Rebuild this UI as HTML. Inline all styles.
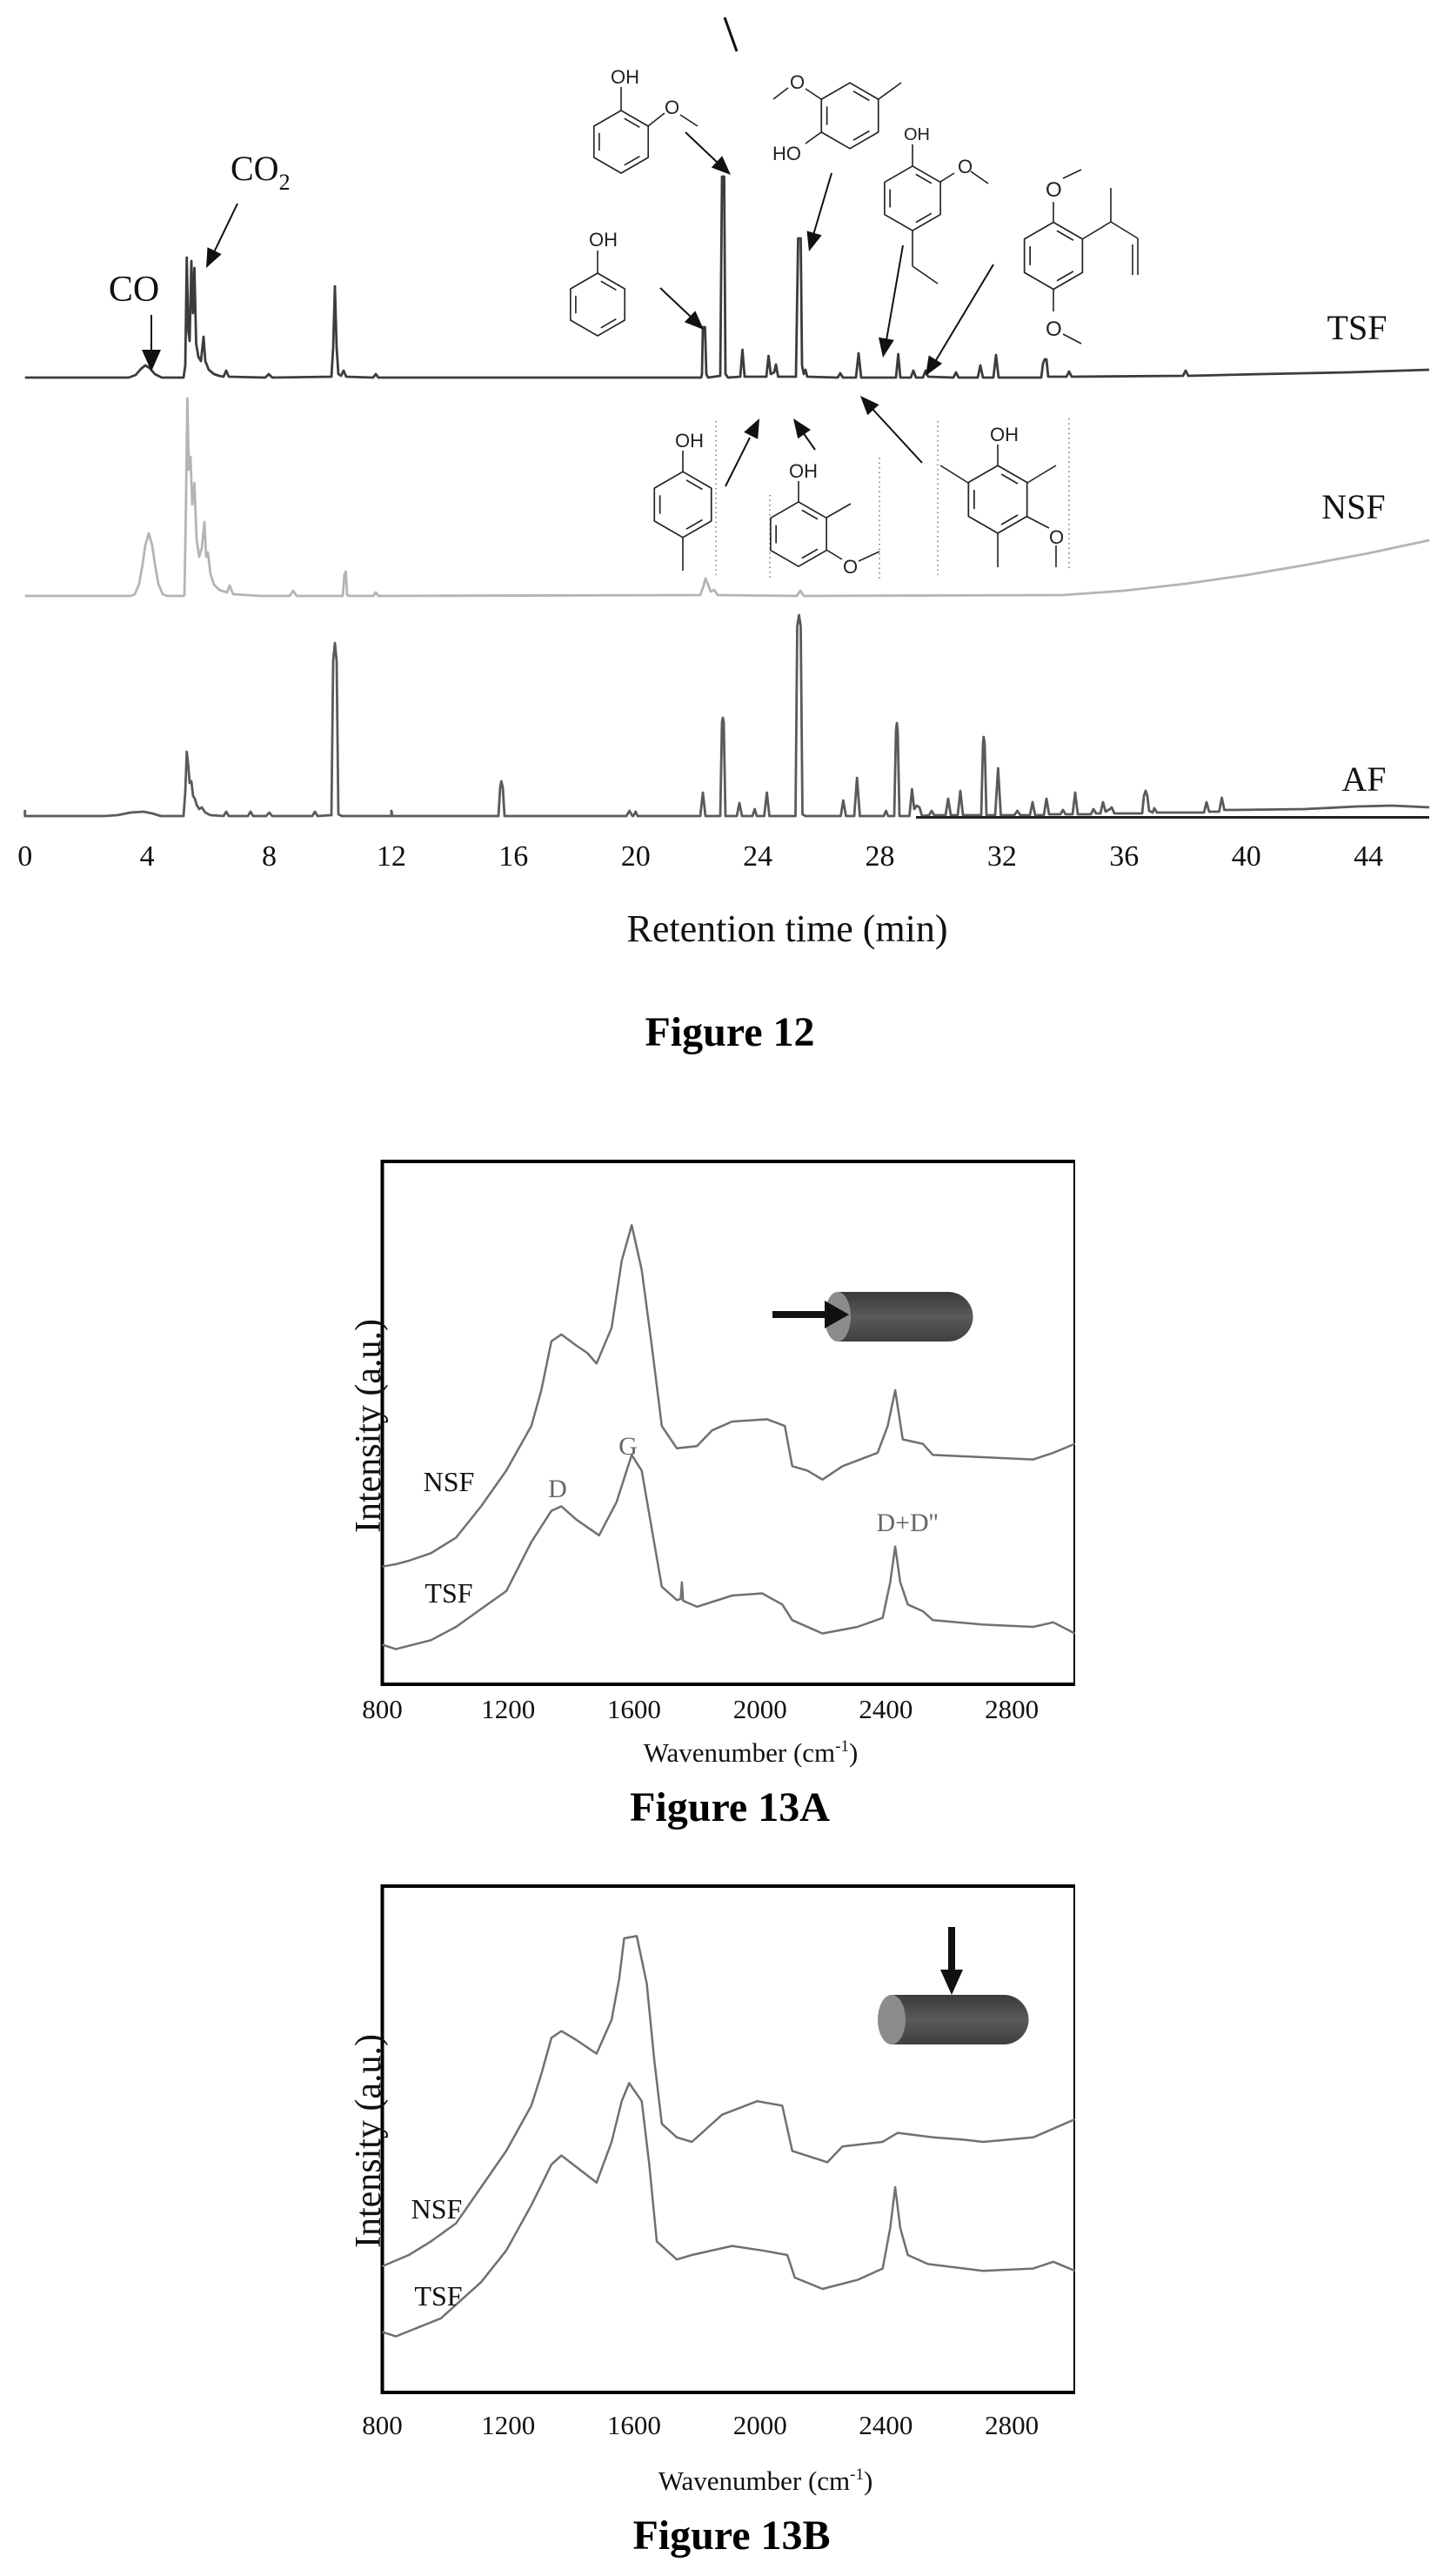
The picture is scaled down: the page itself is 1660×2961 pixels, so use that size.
<!DOCTYPE html>
<html>
<head>
<meta charset="utf-8">
<style>
html,body{margin:0;padding:0;background:#fff;}
svg{display:block;}
</style>
</head>
<body>
<svg width="1660" height="2961" viewBox="0 0 1660 2961" xmlns="http://www.w3.org/2000/svg" font-family="'Liberation Serif', serif">
<defs>
  <g id="hex" fill="none" stroke="#222" stroke-width="1.6" stroke-linejoin="round">
    <polygon points="0,-36 31.18,-18 31.18,18 0,36 -31.18,18 -31.18,-18"/>
    <line x1="3.77" y1="-26.83" x2="21.34" y2="-16.68"/>
    <line x1="21.34" y1="16.68" x2="3.77" y2="26.83"/>
    <line x1="-25.11" y1="10.15" x2="-25.11" y2="-10.15"/>
  </g>
  <linearGradient id="cylA" x1="0" y1="0" x2="0" y2="1">
    <stop offset="0" stop-color="#3a3a3a"/>
    <stop offset="0.5" stop-color="#5a5a5a"/>
    <stop offset="1" stop-color="#3f3f3f"/>
  </linearGradient>
</defs>
<rect x="0" y="0" width="1660" height="2961" fill="#fff"/>

<!-- ================= FIGURE 12 ================= -->
<path fill="none" stroke="#3c3c3c" stroke-width="2.8" stroke-linejoin="round" d="M28.7,434 L148,434 L156,431 L162,424 L167,420 L172,423 L178,430 L186,434 L211,434 L213,420 L214.7,296 L216.5,380 L218,392 L220,300 L221.8,360 L223.5,308 L225.5,395 L228,410 L231,415 L234,387 L236,415 L240,425 L246,430 L252,432 L257,433 L260,426 L263,433 L305,434 L309,430 L313,434 L381,433 L383,400 L385,329 L387,400 L389,430 L392,432 L395,426 L398,433 L429,434 L432,430 L435,434 L806,434 L807,430 L808,376 L810.5,376 L812,430 L814,434 L828,432 L830,203 L832.5,203 L834,430 L837,434 L851,433 L853.5,402 L856,433 L881,433 L883.5,409 L886,430 L890,428 L892,419 L894.5,433 L915,433 L917.5,274 L920.5,274 L922,420 L924,430 L926,425 L928,433 L963,434 L966,429 L969,434 L984,434 L987,406 L990,434 L1030,434 L1032.6,407 L1035,434 L1047,434 L1050,426 L1053,434 L1061,434 L1064,426 L1067,433 L1096,434 L1099,428 L1102,434 L1124,434 L1127,420 L1130,434 L1142,434 L1145,408 L1148,434 L1197,434 L1199,418 L1201,413 L1203,413 L1205,433 L1226,433 L1229,427 L1232,433 L1360,432 L1363,426 L1366,432 L1450,430 L1550,428 L1643,425"/>

<path fill="none" stroke="#b4b4b4" stroke-width="2.8" stroke-linejoin="round" d="M28.7,685 L150,685 L155,683 L160,671 L164,648 L167,627 L171,613 L175,627 L178,648 L182,671 L187,683 L192,685 L211,685 L212,684 L213.5,600 L215.4,458 L217,540 L219,525 L221,580 L223.5,555 L226,620 L229,640 L232,630 L235,600 L237,640 L239,635 L242,660 L246,672 L252,678 L258,680 L261,681 L264,673 L268,683 L300,685 L333,685 L337,679 L341,685 L394,685 L396,660 L397.5,657 L399,684 L402,685 L429,685 L432,681 L435,685 L805,684 L808,676 L811,665 L814,672 L817,680 L821,678 L825,684 L916,685 L920,679 L924,685 L1222,684 L1292,679 L1363,671 L1433,661 L1503,649 L1573,636 L1643,621"/>

<path fill="none" stroke="#5a5a5a" stroke-width="2.8" stroke-linejoin="round" d="M28.7,931 L28.7,938 L120,938 L135,937 L150,934 L165,933 L175,935 L185,938 L211,938 L213,910 L214.7,864 L216.5,880 L218,900 L220,898 L222,915 L224,918 L226,925 L229,930 L232,928 L236,934 L242,937 L257,938 L260,933 L263,938 L285,938 L288,933 L291,938 L306,938 L309.5,934 L313,938 L359,938 L362,933 L365,938 L381,937 L383,760 L385,739 L387,760 L389,936 L393,938 L450,938 L450,932 L451,938 L573,938 L575,905 L576.3,898 L578,905 L580,938 L720,938 L723.7,932 L727,938 L728,938 L730.7,933 L733,938 L805,938 L808,911 L811,938 L828,938 L830,830 L831,825 L832,830 L834,938 L847,938 L850,923 L853,938 L865,938 L867.6,930 L870,938 L878.5,938 L881.6,911 L884.5,938 L914.5,938 L916.5,720 L918.5,707 L920.5,720 L922.5,936 L926,938 L966.5,938 L969.4,920 L972.5,938 L982,938 L985.2,894 L988.5,938 L1016,938 L1018.5,932 L1021,938 L1028,938 L1030,840 L1031,831 L1032,840 L1034,938 L1045.5,938 L1048.4,907 L1051,930 L1054,926 L1057,928 L1060,938 L1068,937 L1071,932 L1074,937 L1087,937 L1090,918 L1093,937 L1101,937 L1104,909 L1107,937 L1128,937 L1130,855 L1130.8,847 L1132,855 L1134,937 L1144,937 L1147.4,883 L1150.5,937 L1166,937 L1169.5,932 L1173,937 L1184,937 L1187,922 L1190,937 L1200,937 L1203,918 L1206,936 L1219,936 L1222,931 L1225,936 L1233,936 L1236,911 L1239,936 L1254,936 L1257,930 L1260,935 L1265,935 L1268,922 L1271,933 L1276,930 L1278,928 L1281,935 L1313,935 L1315,915 L1317,909 L1319,915 L1321,932 L1325,934 L1327,929 L1330,934 L1384,934 L1387,922 L1390,933 L1401.5,933 L1404.6,917 L1407.5,931 L1420,931 L1500,930 L1560,927 L1600,926 L1643,928"/>
<line x1="1053" y1="939.5" x2="1643" y2="939.5" stroke="#222" stroke-width="3"/>

<!-- labels fig 12 -->
<text x="1560" y="390" font-size="40" text-anchor="middle" fill="#111">TSF</text>
<text x="1556" y="596" font-size="40" text-anchor="middle" fill="#111">NSF</text>
<text x="1568" y="909" font-size="40" text-anchor="middle" fill="#111">AF</text>

<text x="154" y="346" font-size="42" text-anchor="middle" fill="#111">CO</text>
<text x="265" y="207" font-size="40" fill="#111">CO<tspan font-size="26" dy="11">2</tspan></text>

<!-- CO arrow -->
<line x1="174" y1="362" x2="174" y2="406" stroke="#111" stroke-width="2"/>
<polygon points="163,402 185,402 174,427" fill="#111"/>
<!-- CO2 arrow -->
<line x1="273" y1="234" x2="246" y2="290" stroke="#111" stroke-width="2"/>
<polygon points="254.7,292.1 238.5,284.3 237,308" fill="#111"/>

<!-- stray mark -->
<line x1="833" y1="20" x2="847" y2="59" stroke="#111" stroke-width="3"/>

<!-- arrows -->
<g stroke="#111" stroke-width="2">
  <line x1="788" y1="152" x2="826" y2="188"/>
  <line x1="759" y1="331" x2="795" y2="365"/>
  <line x1="956" y1="199" x2="935" y2="270"/>
  <line x1="1038" y1="282" x2="1019" y2="391"/>
  <line x1="1142" y1="304" x2="1076" y2="414"/>
  <line x1="834" y1="559" x2="862" y2="503"/>
  <line x1="937" y1="517" x2="923" y2="497"/>
  <line x1="1060" y1="532" x2="1002" y2="469"/>
</g>
<g fill="#111">
  <polygon points="817.8,192.5 830.2,179.3 840,201"/>
  <polygon points="786.9,370.3 799.3,357.3 809,379"/>
  <polygon points="927.5,265.4 944.7,270.4 930,289"/>
  <polygon points="1010,387.7 1027.8,390.9 1015,411"/>
  <polygon points="1067.7,408.5 1083.1,417.9 1064,432"/>
  <polygon points="871.2,504.7 855.2,496.7 873,481"/>
  <polygon points="932,494 917.2,504.2 912,481"/>
  <polygon points="1010.5,465.1 997.3,477.3 989,455"/>
</g>

<!-- dotted separators -->
<g stroke="#777" stroke-width="1.5" stroke-dasharray="1.5,4">
  <line x1="823" y1="484" x2="823" y2="661"/>
  <line x1="885" y1="569" x2="885" y2="668"/>
  <line x1="1011" y1="526" x2="1011" y2="668"/>
  <line x1="1078" y1="484" x2="1078" y2="661"/>
  <line x1="1229" y1="481" x2="1229" y2="657"/>
</g>

<!-- structures -->
<g font-family="'Liberation Sans', sans-serif" fill="#222" font-size="22">
  <use href="#hex" transform="translate(714,163)"/>
  <g stroke="#222" stroke-width="1.6" fill="none">
    <line x1="714" y1="127" x2="714" y2="100"/>
    <line x1="745" y1="145" x2="764" y2="130"/>
    <line x1="782" y1="132" x2="802" y2="145"/>
  </g>
  <text x="702" y="96">OH</text>
  <text x="764" y="131">O</text>

  <use href="#hex" transform="translate(687,350)"/>
  <line x1="687" y1="314" x2="687" y2="288" stroke="#222" stroke-width="1.6"/>
  <text x="677" y="283">OH</text>

  <use href="#hex" transform="translate(977,133) scale(1.05)"/>
  <g stroke="#222" stroke-width="1.6" fill="none">
    <line x1="1010" y1="114" x2="1036" y2="95"/>
    <line x1="944" y1="114" x2="926" y2="102"/>
    <line x1="906" y1="101" x2="889" y2="114"/>
    <line x1="944" y1="152" x2="926" y2="165"/>
  </g>
  <text x="908" y="102">O</text>
  <text x="888" y="184">HO</text>

  <use href="#hex" transform="translate(1049,228) scale(1.03)"/>
  <g stroke="#222" stroke-width="1.6" fill="none">
    <line x1="1049" y1="191" x2="1049" y2="166"/>
    <line x1="1081" y1="209" x2="1097" y2="199"/>
    <line x1="1116" y1="197" x2="1136" y2="211"/>
    <line x1="1049" y1="265" x2="1049" y2="306"/>
    <line x1="1049" y1="306" x2="1078" y2="326"/>
  </g>
  <text x="1039" y="161" font-size="20">OH</text>
  <text x="1101" y="199">O</text>

  <use href="#hex" transform="translate(1211,294) scale(1.07)"/>
  <g stroke="#222" stroke-width="1.6" fill="none">
    <line x1="1211" y1="256" x2="1211" y2="232"/>
    <line x1="1222" y1="205" x2="1243" y2="195"/>
    <line x1="1211" y1="333" x2="1211" y2="358"/>
    <line x1="1222" y1="384" x2="1243" y2="395"/>
    <line x1="1244" y1="275" x2="1277" y2="255"/>
    <line x1="1277" y1="255" x2="1277" y2="216"/>
    <line x1="1277" y1="255" x2="1308" y2="274"/>
    <line x1="1308" y1="274" x2="1308" y2="316"/>
    <line x1="1302" y1="281" x2="1302" y2="316"/>
  </g>
  <text x="1202" y="226" font-size="24">O</text>
  <text x="1202" y="386" font-size="24">O</text>

  <use href="#hex" transform="translate(785,580) scale(1.05)"/>
  <g stroke="#222" stroke-width="1.6" fill="none">
    <line x1="785" y1="542" x2="785" y2="518"/>
    <line x1="785" y1="618" x2="785" y2="656"/>
  </g>
  <text x="776" y="514">OH</text>

  <use href="#hex" transform="translate(918,614) scale(1.03)"/>
  <g stroke="#222" stroke-width="1.6" fill="none">
    <line x1="918" y1="577" x2="918" y2="553"/>
    <line x1="950" y1="595" x2="978" y2="579"/>
    <line x1="950" y1="632" x2="968" y2="643"/>
    <line x1="987" y1="645" x2="1011" y2="634"/>
  </g>
  <text x="907" y="549">OH</text>
  <text x="969" y="659">O</text>

  <use href="#hex" transform="translate(1147,574) scale(1.08)"/>
  <g stroke="#222" stroke-width="1.6" fill="none">
    <line x1="1147" y1="535" x2="1147" y2="511"/>
    <line x1="1113" y1="555" x2="1081" y2="535"/>
    <line x1="1181" y1="555" x2="1214" y2="535"/>
    <line x1="1147" y1="613" x2="1147" y2="652"/>
    <line x1="1181" y1="594" x2="1206" y2="607"/>
    <line x1="1214" y1="627" x2="1214" y2="652"/>
  </g>
  <text x="1138" y="507">OH</text>
  <text x="1206" y="625">O</text>
</g>

<g font-size="34" text-anchor="middle" fill="#111">
  <text x="28.7" y="995">0</text>
  <text x="169.1" y="995">4</text>
  <text x="309.5" y="995">8</text>
  <text x="449.9" y="995">12</text>
  <text x="590.3" y="995">16</text>
  <text x="730.7" y="995">20</text>
  <text x="871.1" y="995">24</text>
  <text x="1011.5" y="995">28</text>
  <text x="1151.9" y="995">32</text>
  <text x="1292.3" y="995">36</text>
  <text x="1432.7" y="995">40</text>
  <text x="1573.1" y="995">44</text>
</g>
<text x="905" y="1082" font-size="44" text-anchor="middle" fill="#111">Retention time (min)</text>
<text x="839" y="1202" font-size="48" font-weight="bold" text-anchor="middle" fill="#000">Figure 12</text>

<!-- ================= FIGURE 13A ================= -->
<g stroke="#000" fill="none">
  <line x1="439.5" y1="1335" x2="1235" y2="1335" stroke-width="4"/>
  <line x1="439.5" y1="1936" x2="1235" y2="1936" stroke-width="4"/>
  <line x1="439.5" y1="1333" x2="439.5" y2="1938" stroke-width="4"/>
  <line x1="1235" y1="1333" x2="1235" y2="1938" stroke-width="2"/>
</g>
<path fill="none" stroke="#707070" stroke-width="2.5" stroke-linejoin="round" d="M439.4,1800.7 L455,1798 L470,1794 L495.4,1785.3 L524.3,1767.4 L553.1,1731.4 L582,1690.4 L610.8,1639.1 L622.3,1598 L633.9,1541.6 L645.4,1533.9 L662.7,1546.8 L675,1555 L685.8,1567.3 L703.1,1526.2 L714.7,1449.3 L726.2,1408.3 L737.7,1459.6 L749.3,1546.8 L760.8,1639.1 L778.1,1664.8 L801.2,1662.2 L818.5,1644.2 L841.6,1634 L882,1631.4 L902.2,1639.1 L910.8,1685.3 L928.2,1690.4 L945.5,1700.7 L968.5,1685.3 L1008.9,1669.9 L1020.5,1639.1 L1029.1,1598 L1037.8,1654.5 L1060.9,1659.6 L1072.4,1672.4 L1130.1,1675 L1187.8,1677.6 L1210.9,1669.9 L1235.7,1659.6"/>
<path fill="none" stroke="#707070" stroke-width="2.5" stroke-linejoin="round" d="M439.4,1890.5 L455,1895.6 L495.4,1885.3 L524.3,1870 L553.1,1849.4 L582,1828.9 L610.8,1772.5 L633.9,1736.6 L645.4,1731.4 L662.7,1746.8 L688.7,1764.8 L708.9,1726.3 L726.2,1672.4 L737.7,1690.4 L760.8,1823.8 L778.1,1839.2 L782.5,1838 L783.9,1818.7 L785.3,1840 L801.2,1846.9 L841.6,1834 L876.2,1831.5 L899.3,1844.3 L910.8,1862.3 L945.5,1877.6 L985.9,1870 L1014.7,1859.7 L1023.4,1818.7 L1029.1,1777.6 L1034.9,1818.7 L1043.6,1844.3 L1060.9,1852 L1072.4,1862.3 L1130.1,1867.4 L1187.8,1870 L1210.9,1864.8 L1235.7,1877.6"/>
<text x="516" y="1714" font-size="32" text-anchor="middle" fill="#111">NSF</text>
<text x="516" y="1842" font-size="32" text-anchor="middle" fill="#111">TSF</text>
<text x="641" y="1721" font-size="30" text-anchor="middle" fill="#666">D</text>
<text x="722" y="1672" font-size="30" text-anchor="middle" fill="#666">G</text>
<text x="1043" y="1760" font-size="30" text-anchor="middle" fill="#666">D+D''</text>
<path d="M963,1485 L1090,1485 A28.5,28.5 0 0 1 1090,1542 L963,1542 Z" fill="url(#cylA)"/>
<ellipse cx="963" cy="1513.5" rx="15" ry="28.5" fill="#8c8c8c"/>
<rect x="888" y="1507" width="64" height="8" fill="#111"/>
<polygon points="948,1495 948,1527 976,1511" fill="#111"/>
<text transform="translate(437,1639) rotate(-90)" font-size="42" text-anchor="middle" fill="#111">Intensity (a.u.)</text>
<g font-size="31" text-anchor="middle" fill="#111">
  <text x="439.5" y="1975">800</text>
  <text x="584.2" y="1975">1200</text>
  <text x="728.9" y="1975">1600</text>
  <text x="873.7" y="1975">2000</text>
  <text x="1018.4" y="1975">2400</text>
  <text x="1163.1" y="1975">2800</text>
</g>
<text x="863" y="2025" font-size="31" text-anchor="middle" fill="#111">Wavenumber (cm<tspan font-size="19" dy="-12">-1</tspan><tspan dy="12">)</tspan></text>
<text x="839" y="2093" font-size="48" font-weight="bold" text-anchor="middle" fill="#000">Figure 13A</text>

<!-- ================= FIGURE 13B ================= -->
<g stroke="#000" fill="none">
  <line x1="439.5" y1="2168" x2="1235" y2="2168" stroke-width="4"/>
  <line x1="439.5" y1="2750" x2="1235" y2="2750" stroke-width="4"/>
  <line x1="439.5" y1="2166" x2="439.5" y2="2752" stroke-width="4"/>
  <line x1="1235" y1="2166" x2="1235" y2="2752" stroke-width="2"/>
</g>
<path fill="none" stroke="#707070" stroke-width="2.5" stroke-linejoin="round" d="M439.4,2605 L470,2592 L495.4,2576.4 L524.3,2555.6 L553.1,2514 L582,2472.4 L610.8,2420.4 L622.3,2384 L633.9,2342.4 L645.4,2334.6 L662.7,2345 L685.8,2360.6 L703.1,2321.6 L711.8,2274.8 L717.5,2228 L732,2225.4 L743.5,2280 L752.2,2368.4 L760.8,2441.2 L778.1,2456.8 L795.4,2462 L830,2430.8 L870.5,2415.2 L899.3,2420.4 L910.8,2472.4 L951.2,2485.4 L968.5,2467.2 L1014.7,2462 L1032,2451.6 L1072.4,2456.8 L1107,2459.4 L1130.1,2462 L1187.8,2456.8 L1235.7,2436"/>
<path fill="none" stroke="#707070" stroke-width="2.5" stroke-linejoin="round" d="M439.4,2680.4 L455,2685.6 L506.9,2664.8 L553.1,2623.2 L582,2586.8 L610.8,2534.8 L633.9,2488 L645.4,2477.6 L685.8,2508.8 L703.1,2462 L714.7,2415.2 L723.3,2394.4 L737.7,2415.2 L746.4,2488 L755,2576.4 L778.1,2597.2 L795.4,2592 L841.6,2581.6 L876.2,2586.8 L905.1,2592 L913.7,2618 L945.5,2631 L985.9,2620.6 L1014.7,2607.6 L1023.4,2560.8 L1029.1,2514 L1034.9,2560.8 L1043.6,2592 L1066.6,2602.4 L1130.1,2610.2 L1187.8,2607.6 L1210.9,2599.8 L1235.7,2610.2"/>
<text x="502" y="2550" font-size="32" text-anchor="middle" fill="#111">NSF</text>
<text x="504" y="2650" font-size="32" text-anchor="middle" fill="#111">TSF</text>
<path d="M1025,2293 L1154,2293 A28.5,28.5 0 0 1 1154,2350 L1025,2350 Z" fill="url(#cylA)"/>
<ellipse cx="1025" cy="2321.5" rx="16" ry="28.5" fill="#8c8c8c"/>
<rect x="1090" y="2215" width="8" height="52" fill="#111"/>
<polygon points="1081,2264 1107,2264 1094,2293" fill="#111"/>
<text transform="translate(437,2461) rotate(-90)" font-size="42" text-anchor="middle" fill="#111">Intensity (a.u.)</text>
<g font-size="31" text-anchor="middle" fill="#111">
  <text x="439.5" y="2798">800</text>
  <text x="584.2" y="2798">1200</text>
  <text x="728.9" y="2798">1600</text>
  <text x="873.7" y="2798">2000</text>
  <text x="1018.4" y="2798">2400</text>
  <text x="1163.1" y="2798">2800</text>
</g>
<text x="880" y="2862" font-size="31" text-anchor="middle" fill="#111">Wavenumber (cm<tspan font-size="19" dy="-12">-1</tspan><tspan dy="12">)</tspan></text>
<text x="841" y="2930" font-size="48" font-weight="bold" text-anchor="middle" fill="#000">Figure 13B</text>
</svg>
</body>
</html>
